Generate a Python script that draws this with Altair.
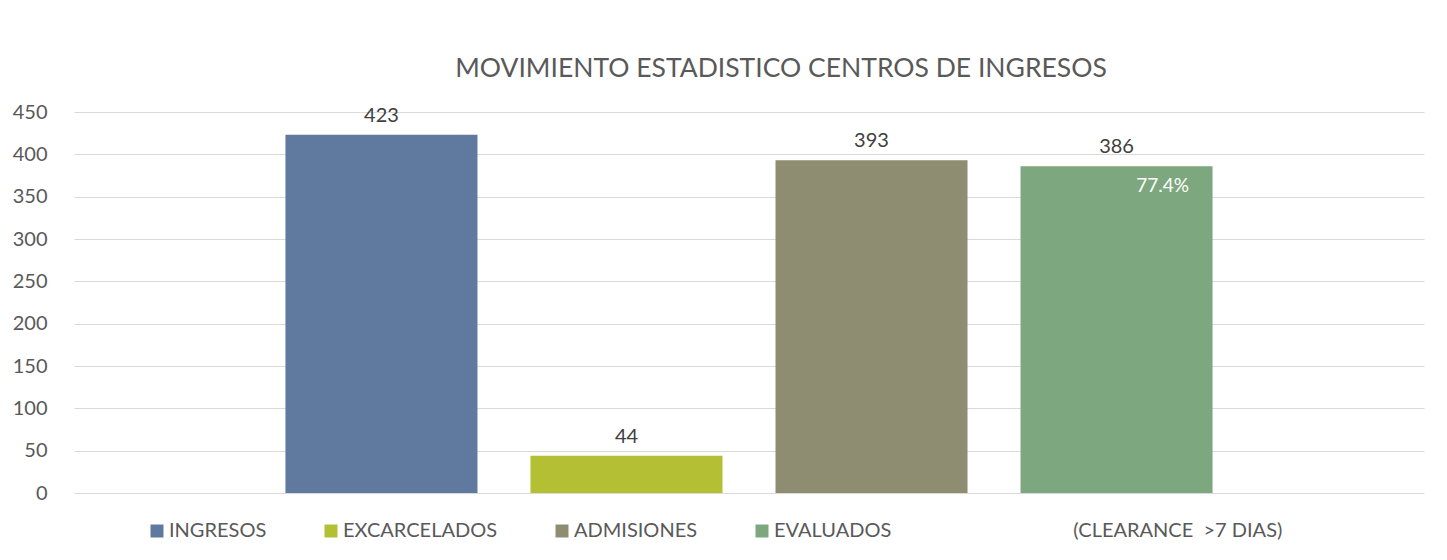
import altair as alt
import pandas as pd

categories = ["INGRESOS", "EXCARCELADOS", "ADMISIONES", "EVALUADOS"]
values = [423, 44, 393, 386]
inner_labels = ["", "", "", "77.4%"]
extra_series = "\u200b" + "\u2003" * 6 + "\u00a0\u00a0\u00a0(CLEARANCE\u00a0\u00a0>7 DIAS)"
colors = ["#5f7a9e", "#b4bf33", "#8e8c71", "#7da77e", "transparent"]
y_ticks = [0, 50, 100, 150, 200, 250, 300, 350, 400, 450]

df = pd.DataFrame({"cat": categories, "val": values, "pct": inner_labels})
legend_domain = categories + [extra_series]

FONT = "Lato"
GREY = "#595959"

x = alt.X("cat:N", sort=categories, axis=None,
          scale=alt.Scale(paddingInner=0.2163, paddingOuter=0.863))
y = alt.Y("val:Q", axis=alt.Axis(values=y_ticks, title=None, domain=False, ticks=False,
                                   tickSize=0, labelPadding=27, labelFontSize=20,
                                   labelColor=GREY, labelFont=FONT,
                                   gridColor="#d9d9d9", gridWidth=1),
          scale=alt.Scale(domain=[0, 450], nice=False))

bars = alt.Chart(df).mark_bar().encode(
    x=x, y=y,
    color=alt.Color("cat:N", scale=alt.Scale(domain=legend_domain, range=colors),
                    legend=alt.Legend(title=None, orient="none", direction="horizontal",
                                      legendX=73, legendY=409,
                                      symbolType="square", symbolSize=169,
                                      symbolStrokeWidth=0, labelOffset=2,
                                      columnPadding=54, labelFontSize=20,
                                      labelFont=FONT, labelColor=GREY,
                                      labelLimit=400, padding=0)),
)

vals = alt.Chart(df).mark_text(baseline="alphabetic", dy=-13, fontSize=20,
                               font=FONT, color="#404040").encode(
    x=x, y=y, text="val:Q")

pct = alt.Chart(df).mark_text(baseline="alphabetic", dy=26, dx=46, fontSize=19,
                              font=FONT, color="white").encode(
    x=x, y=y, text="pct:N")

chart = alt.layer(bars, vals, pct).properties(
    width=1350, height=381,
    title=alt.TitleParams("MOVIMIENTO ESTADISTICO CENTROS DE INGRESOS",
                          fontSize=26.5, fontWeight="normal", color=GREY, font=FONT,
                          anchor="middle", dx=32, offset=20),
    autosize=alt.AutoSizeParams(type="none"),
    padding={"left": 66, "top": 104, "right": 15, "bottom": 67},
    background="white",
).configure_view(stroke=None)

chart.save("out.html", embed_options={"renderer": "svg", "actions": False})
